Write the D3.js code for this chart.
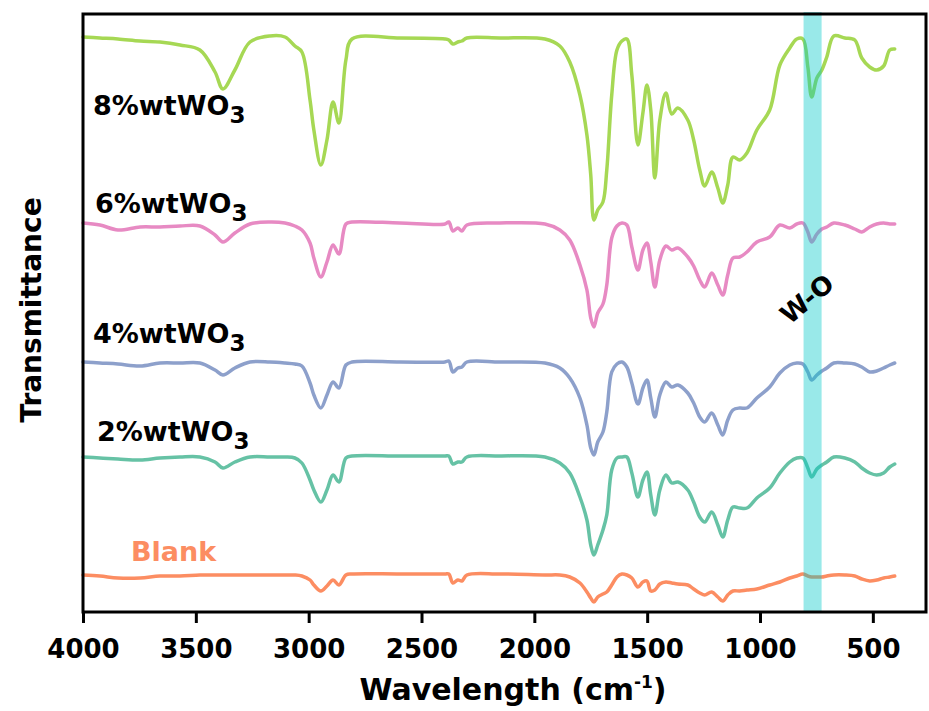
<html>
<head>
<style>
  body { margin: 0; background: #fff; }
  .ftir-line { fill: none; stroke-width: 3.5px; stroke-linejoin: round; stroke-linecap: round; }
  .ftir-axis text { font-family: 'Century Gothic', 'DejaVu Sans', sans-serif; font-weight: bold; font-size: 26px; fill: #000; }
  .ftir-axis line { stroke: #000; stroke-width: 3px; }
  .ftir-label { font-family: 'Century Gothic', 'DejaVu Sans', sans-serif; font-weight: bold; }
</style>
</head>
<body>
<svg id="chart" width="929" height="711"></svg>
<script src="https://d3js.org/d3.v7.min.js"></script>
<script>
// wavenumbers (cm-1), shared by all spectra
const wavenumber = [4000, 3925, 3845, 3747, 3659, 3570, 3482, 3415, 3380, 3327,
  3260, 3172, 3105, 3061, 3030, 2994, 2977, 2946, 2919, 2892,
  2866, 2835, 2808, 2596, 2396, 2379, 2361, 2339, 2321, 2299,
  2153, 1953, 1887, 1843, 1798, 1767, 1750, 1736, 1719, 1696,
  1679, 1657, 1634, 1612, 1590, 1568, 1541, 1519, 1501, 1484,
  1466, 1444, 1417, 1391, 1364, 1320, 1294, 1267, 1245, 1214,
  1187, 1165, 1143, 1120, 1090, 1058, 1014, 957, 912, 868,
  837, 810, 788, 771, 748, 726, 704, 673, 624, 580,
  549, 514, 483, 452, 425, 403]

// stacked transmittance (a.u., offset per sample)
const blank = [37, 36, 34, 34, 36, 36, 37, 37, 37, 37,
  37, 37, 37, 37, 36, 32, 27, 21, 26, 32,
  27, 37, 38, 38, 38, 38, 29, 32, 31, 37,
  38, 37, 37, 35, 29, 20, 14, 10, 15, 18,
  20, 27, 35, 38, 37, 34, 25, 30, 31, 21,
  22, 28, 30, 29, 28, 27, 23, 19, 17, 20,
  15, 11, 17, 21, 21, 22, 23, 27, 30, 34,
  36, 38, 36, 35, 35, 35, 36, 37, 37, 36,
  33, 31, 32, 34, 35, 36]

const wt2 = [155, 154, 153, 152, 154, 155, 155, 150, 144, 150,
  155, 155, 155, 154, 149, 132, 122, 110, 122, 137,
  130, 154, 156, 156, 156, 156, 148, 150, 150, 155,
  156, 155, 149, 139, 115, 92, 67, 57, 67, 82,
  97, 142, 154, 155, 155, 139, 115, 132, 140, 117,
  97, 122, 137, 129, 130, 122, 110, 95, 90, 100,
  87, 75, 92, 105, 104, 104, 114, 124, 139, 150,
  154, 154, 144, 135, 143, 147, 150, 155, 154, 150,
  144, 139, 137, 139, 145, 148]

const wt4 = [250, 249, 248, 246, 249, 249, 249, 242, 237, 244,
  250, 250, 249, 248, 246, 229, 217, 204, 217, 230,
  224, 247, 250, 250, 250, 251, 240, 244, 245, 250,
  250, 249, 244, 234, 214, 187, 164, 157, 170, 180,
  200, 240, 248, 250, 245, 229, 208, 224, 232, 214,
  195, 217, 230, 225, 227, 219, 209, 195, 190, 199,
  187, 177, 192, 202, 204, 204, 214, 225, 239, 247,
  249, 248, 240, 232, 237, 241, 244, 249, 249, 248,
  245, 240, 241, 244, 247, 249]

const wt6 = [389, 387, 382, 385, 385, 386, 386, 377, 370, 379,
  388, 390, 389, 386, 382, 369, 354, 335, 350, 367,
  358, 388, 390, 389, 388, 390, 381, 384, 381, 387,
  389, 388, 382, 372, 347, 322, 294, 285, 299, 308,
  327, 374, 386, 389, 387, 365, 342, 362, 369, 350,
  325, 352, 366, 362, 364, 355, 346, 332, 325, 339,
  327, 317, 337, 354, 355, 360, 370, 375, 387, 384,
  388, 389, 380, 370, 378, 383, 385, 389, 387, 383,
  380, 385, 388, 389, 388, 388]

const wt8 = [575, 574, 573, 571, 570, 567, 562, 540, 523, 542,
  570, 576, 575, 566, 560, 512, 482, 447, 472, 510,
  489, 552, 573, 574, 573, 572, 568, 570, 571, 574,
  574, 573, 566, 550, 517, 477, 437, 392, 402, 410,
  442, 517, 562, 571, 573, 537, 467, 499, 527, 502,
  434, 492, 519, 498, 504, 492, 472, 442, 426, 440,
  424, 409, 427, 455, 452, 459, 482, 502, 547, 564,
  573, 573, 545, 515, 534, 542, 555, 576, 574, 572,
  554, 545, 542, 546, 562, 563]

const sampleNames = ["Blank", "2%wtWO", "4%wtWO", "6%wtWO", "8%wtWO"]
const sampleValues = [blank, wt2, wt4, wt6, wt8]
const xTicks = [4000, 3500, 3000, 2500, 2000, 1500, 1000, 500]
const bandRange = [807, 727]   // W-O band, cm-1

const colors = ["#fc8d62", "#66c2a5", "#8da0cb", "#e78ac3", "#a6d854"]
// label placement: [x, baseline]
const labelPos = [[131, 561], [97, 441], [93, 343], [95, 213], [93, 115]]

const margin = {left: 83, right: 2, top: 14, bottom: 99}
const W = 929, H = 711
const svg = d3.select("#chart")

let xScale = d3.scaleLinear()
  .domain([4000, 260])
  .range([margin.left, W - margin.right])
let yScale = d3.scaleLinear()
  .domain([0, 598])
  .range([H - margin.bottom, margin.top])

// spectra
const line = d3.line().curve(d3.curveCatmullRom.alpha(0.5))
  .x((d, i) => xScale(wavenumber[i]))
  .y(d => yScale(d))

sampleValues.forEach((vals, k) => {
  svg.append("path")
    .datum(vals)
    .attr("class", "ftir-line")
    .attr("stroke", colors[k])
    .attr("d", line)
})

// W-O band
svg.append("rect")
  .attr("x", xScale(bandRange[0]))
  .attr("width", xScale(bandRange[1]) - xScale(bandRange[0]))
  .attr("y", margin.top - 2)
  .attr("height", H - margin.bottom - margin.top + 2)
  .attr("fill", "#00c8c8")
  .attr("fill-opacity", 0.4)

// frame
svg.append("rect")
  .attr("x", margin.left)
  .attr("y", margin.top)
  .attr("width", W - margin.right - margin.left - 1)
  .attr("height", H - margin.bottom - margin.top)
  .attr("fill", "none")
  .attr("stroke", "#000")
  .attr("stroke-width", 3)

// x axis
let xAxis = svg.append("g")
  .attr("class", "ftir-axis")
  .attr("transform", "translate(0," + (H - margin.bottom) + ")")
  .call(d3.axisBottom(xScale).tickValues(xTicks).tickSize(11).tickFormat(d3.format("d")))
xAxis.select("path.domain").remove()
xAxis.selectAll("text").attr("y", 46).attr("dy", 0)

// axis titles
let xt = svg.append("text")
  .attr("class", "ftir-label")
  .attr("x", 513)
  .attr("y", 700)
  .attr("text-anchor", "middle")
  .style("font-size", "30px")
xt.append("tspan").text("Wavelength (cm")
xt.append("tspan").attr("dy", -12).style("font-size", "17px").text("-1")
xt.append("tspan").attr("dy", 12).text(")")

svg.append("text")
  .attr("class", "ftir-label")
  .attr("transform", "translate(41,310) rotate(-90)")
  .attr("text-anchor", "middle")
  .style("font-size", "28px")
  .text("Transmittance")

// sample labels
sampleNames.forEach((name, k) => {
  let t = svg.append("text")
    .attr("class", "ftir-label")
    .attr("x", labelPos[k][0])
    .attr("y", labelPos[k][1])
    .style("font-size", "27px")
    .attr("fill", k == 0 ? colors[0] : "#000")
  t.append("tspan").text(name)
  if (k > 0) {
    t.append("tspan").attr("dy", 8).style("font-size", "23px").text("3")
  }
})

svg.append("text")
  .attr("class", "ftir-label")
  .attr("transform", "translate(807,299) rotate(-40)")
  .attr("text-anchor", "middle")
  .attr("dominant-baseline", "central")
  .style("font-size", "26px")
  .text("W-O")
</script>
</body>
</html>
